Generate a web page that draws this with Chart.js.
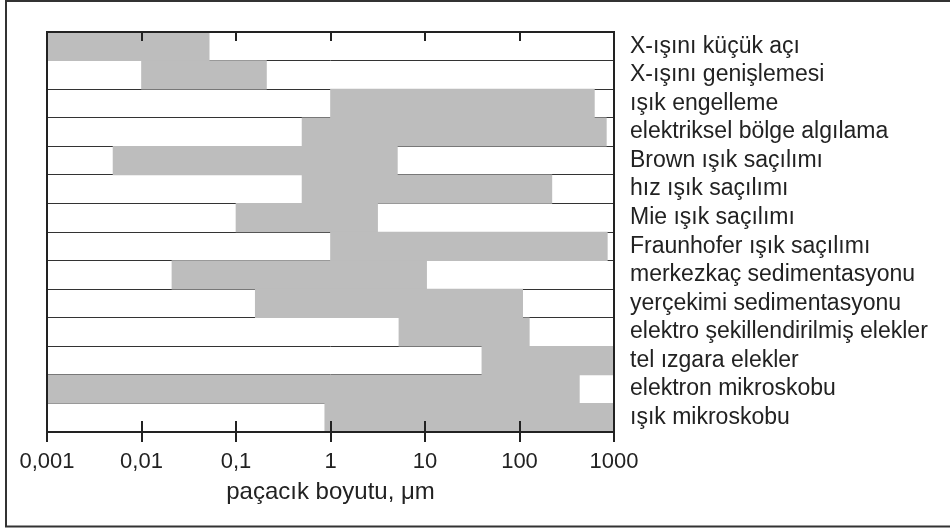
<!DOCTYPE html>
<html>
<head>
<meta charset="utf-8">
<script src="https://cdn.jsdelivr.net/npm/chart.js@4/dist/chart.umd.min.js"></script>
<style>
  html, body { margin: 0; padding: 0; background: #fff; }
  #wrap { width: 950px; height: 529px; position: relative; }
</style>
</head>
<body>
<div id="wrap"><canvas id="c"></canvas></div>
<script>
const categories = [
  "X-ışını küçük açı",
  "X-ışını genişlemesi",
  "ışık engelleme",
  "elektriksel bölge algılama",
  "Brown ışık saçılımı",
  "hız ışık saçılımı",
  "Mie ışık saçılımı",
  "Fraunhofer ışık saçılımı",
  "merkezkaç sedimentasyonu",
  "yerçekimi sedimentasyonu",
  "elektro şekillendirilmiş elekler",
  "tel ızgara elekler",
  "elektron mikroskobu",
  "ışık mikroskobu"
];
const rangeStart = [0.001, 0.01, 1, 0.5, 0.005, 0.5, 0.1, 1, 0.021, 0.16, 5.3, 40, 0.001, 0.87];
const rangeEnd   = [0.052, 0.21, 620, 830, 5.1, 220, 3.15, 850, 10.4, 108, 127, 1000, 430, 1000];
const tickValues = [0.001, 0.01, 0.1, 1, 10, 100, 1000];
const tickLabels = ["0,001", "0,01", "0,1", "1", "10", "100", "1000"];
const axisTitle = "paçacık boyutu, μm";

const FONT = "'Liberation Sans', Arial, Helvetica, sans-serif";

const framePlugin = {
  id: 'framePlugin',
  afterDraw(chart) {
    const ctx = chart.ctx;
    const a = chart.chartArea;
    const xs = chart.scales.x;
    ctx.save();
    ctx.strokeStyle = '#333';
    ctx.lineWidth = 2;
    ctx.strokeRect(6, 1, 980, 525.5);
    ctx.strokeStyle = '#222';
    ctx.lineWidth = 2;
    ctx.strokeRect(a.left, a.top, a.right - a.left, a.bottom - a.top);
    ctx.lineWidth = 2;
    tickValues.forEach((v, i) => {
      const x = Math.round(xs.getPixelForValue(v));
      ctx.beginPath();
      ctx.moveTo(x, a.bottom - 11);
      ctx.lineTo(x, a.bottom + 10);
      ctx.stroke();
      if (i > 0 && i < tickValues.length - 1) {
        ctx.beginPath();
        ctx.moveTo(x, a.top);
        ctx.lineTo(x, a.top + 9);
        ctx.stroke();
      }
    });
    ctx.restore();
  }
};

new Chart(document.getElementById('c'), {
  type: 'bar',
  data: {
    labels: categories,
    datasets: [{
      data: rangeStart.map((s, i) => [s, rangeEnd[i]]),
      backgroundColor: '#bdbdbd',
      borderWidth: 0,
      barPercentage: 1,
      categoryPercentage: 1
    }]
  },
  options: {
    indexAxis: 'y',
    responsive: true,
    maintainAspectRatio: false,
    animation: false,
    devicePixelRatio: 1,
    layout: { padding: { left: 47, top: 32, right: 0, bottom: 0 } },
    plugins: { legend: { display: false }, tooltip: { enabled: false } },
    scales: {
      x: {
        type: 'logarithmic',
        position: 'bottom',
        min: 0.001,
        max: 1000,
        afterBuildTicks(s) { s.ticks = tickValues.map(v => ({ value: v })); },
        afterFit(s) { s.height = 97; },
        grid: { display: false },
        border: { display: false },
        ticks: {
          autoSkip: false,
          maxRotation: 0,
          padding: 9,
          color: '#222',
          font: { family: FONT, size: 22 },
          callback(value) {
            const i = tickValues.findIndex(t => Math.abs(Math.log10(t) - Math.log10(value)) < 1e-6);
            return i >= 0 ? tickLabels[i] : '';
          }
        },
        title: {
          display: true,
          text: axisTitle,
          color: '#222',
          font: { family: FONT, size: 24 },
          padding: { top: 0, bottom: 22 }
        }
      },
      y: {
        type: 'category',
        position: 'right',
        z: 1,
        offset: true,
        afterFit(s) { s.width = 950 - 614; },
        grid: { offset: true, color: '#333', lineWidth: 1, drawTicks: false },
        border: { display: false },
        ticks: {
          padding: 16,
          color: '#222',
          font: { family: FONT, size: 23 },
          autoSkip: false
        }
      }
    }
  },
  plugins: [framePlugin]
});
</script>
</body>
</html>
